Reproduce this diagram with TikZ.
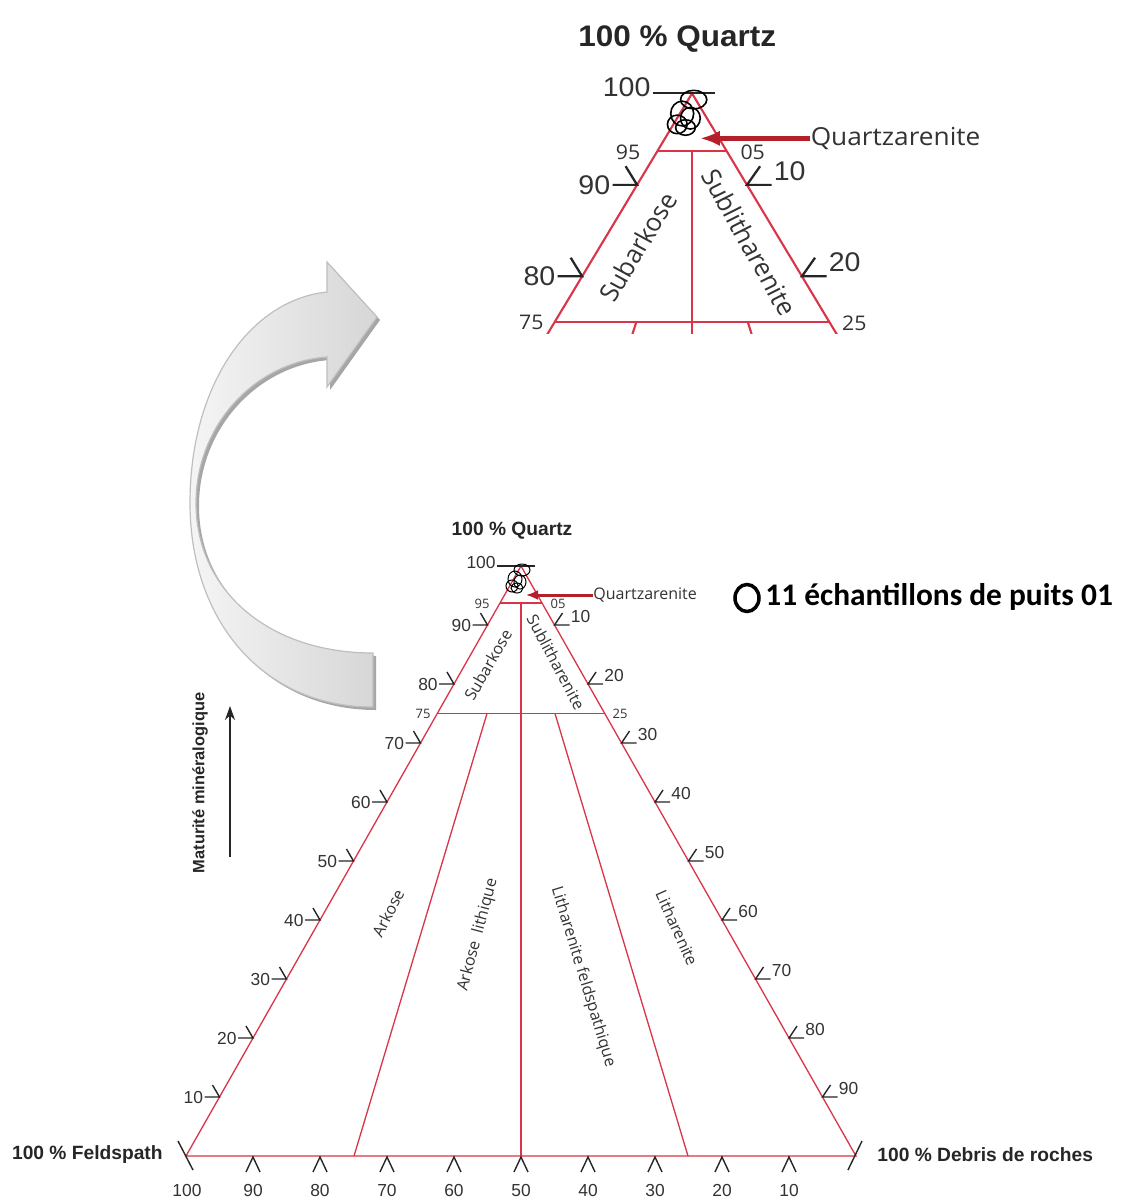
\documentclass[tikz,border=0pt]{standalone}
\usepackage{fontspec}
\setmainfont{Liberation Sans}
\newfontfamily\osans{Open Sans}
\newfontfamily\carl{Carlito}
\usetikzlibrary{arrows.meta}

\definecolor{trired}{RGB}{218,52,72}
\definecolor{arrred}{RGB}{180,32,42}

\tikzset{
  side/.style={trired, line width=0.65pt},
  tck/.style={black!85, line width=0.7pt},
  num/.style={font=\fontsize{8.7}{10}\selectfont, text=black!80, inner sep=0pt},
  petit/.style={font=\osans\fontsize{6.5}{8}\selectfont, text=black!80, inner sep=0pt},
  zone/.style={font=\osans\fontsize{8}{9}\selectfont, text=black!80, inner sep=0pt},
  ttl/.style={font=\bfseries\fontsize{9.6}{11}\selectfont, text=black!85, inner sep=0pt},
  echant/.style={draw=black, line width=0.5pt},
}

% graduations des cotes (unites : pixels)
\newcommand{\gradg}[1]{%
  \pgfmathsetmacro{\px}{186+3.35*#1}
  \pgfmathsetmacro{\py}{1156-5.9*#1}
  \draw[tck] (\px-15,\py) -- (\px,\py) -- (\px-7,\py-12);
  \node[num, anchor=east] (g#1) at (\px-16,\py) {#1};
}
\newcommand{\gradd}[1]{%
  \pgfmathsetmacro{\qx}{856-3.35*(100-#1)}
  \pgfmathsetmacro{\qy}{1156-5.9*(100-#1)}
  \draw[tck] (\qx+15,\qy) -- (\qx,\qy) -- (\qx+8,\qy-12);
  \node[num, anchor=west] (d#1) at (\qx+16,\qy-9) {#1};
}

% sommet du diagramme ternaire
\newcommand{\ternaire}{%
  \coordinate (F) at (186,1156);
  \coordinate (D) at (856,1156);
  \coordinate (Q) at (521,566);
  \draw[side] (F) -- (Q) -- (D) -- cycle;
  \draw[side] (500,603) -- (542,603);
  \draw[side] (437.3,713.5) -- (604.7,713.5);
  \draw[side] (521,603) -- (521,1156);
  \draw[side] (487,713.5) -- (354,1156);
  \draw[side] (555,713.5) -- (688,1156);
  \foreach \v in {80,90}{\gradg{\v}}
  \foreach \v in {10,20}{\gradd{\v}}
  \draw[tck] (497,566) -- (535,566);
  \node[num, anchor=east] (g100) at (496,562) {100};
  \node[petit] (l95) at (482,604) {95};
  \node[petit] (l05) at (558,604) {05};
  \node[petit] (l75) at (423,714) {75};
  \node[petit] (l25) at (620,714) {25};
  \node[zone, rotate=60] (subark) at (488,665) {Subarkose};
  \node[zone, rotate=-62] (sublith) at (556,662) {Sublitharenite};
  \node[ttl] (pq) at (512,531) {100 \% Quartz};
  % echantillons
  \foreach \cx/\cy/\rx/\ry in {522/570/8/6, 515/579/7/8, 520/582/6/7, 512/586/6/6, 517/588/6/5}
    \draw[echant] (\cx,\cy) ellipse [x radius=\rx, y radius=\ry];
  \node[font=\osans\fontsize{8}{10}\selectfont, text=black!80, anchor=west, inner sep=0pt] (qa) at (593,595) {Quartzarenite};
  \coordinate (qtip) at (526,595);
  \draw[arrred, line width=1.5pt, -{Latex[length=6pt,width=5pt]}] (qa.west) -- (qtip);
}

% reste du diagramme
\newcommand{\ternairebas}{%
  \foreach \v in {10,20,...,70}{\gradg{\v}}
  \foreach \v in {30,40,...,90}{\gradd{\v}}
  \foreach \v in {10,20,...,90}{
    \pgfmathsetmacro{\bx}{186+6.7*(100-\v)}
    \draw[tck] (\bx-7,1172) -- (\bx,1157) -- (\bx+7,1172);
    \node[num] (b\v) at (\bx,1190) {\v};
  }
  \node[num] (b100) at (187,1190) {100};
  \draw[tck] (178,1141) -- (193,1170);
  \draw[tck] (862,1141) -- (848,1170);
  \node[zone, rotate=63] (ark) at (388,913) {Arkose};
  \node[zone, rotate=75] (arklit) at (478,935) {Arkose\ \ lithique};
  \node[zone, rotate=-73] (litfeld) at (583,977) {Litharenite feldspathique};
  \node[zone, rotate=-66] (lit) at (677,928) {Litharenite};
  \node[ttl, anchor=east] (pf) at (163,1155) {100 \% Feldspath};
  \node[ttl, anchor=west] (pd) at (877,1155) {100 \% Debris de roches};
}

\begin{document}
\begin{tikzpicture}[x=0.5pt,y=-0.5pt]
  \fill[white] (0,0) rectangle (1121,1201);
  \useasboundingbox (0,0) rectangle (1121,1201);

  % fleche courbe
  \fill[black!35, shift={(3,3)}] (373,707) .. controls (262,707) and (190,620) .. (190,503)
    .. controls (190,385) and (250,300) .. (327,292) -- (327,262) -- (377,317) -- (327,387) -- (327,357)
    .. controls (255,362) and (196,425) .. (196,503) .. controls (196,590) and (268,653) .. (373,653) -- cycle;
  \draw[black!25, line width=0.6pt, left color=white!96!black, right color=black!16] (373,707) .. controls (262,707) and (190,620) .. (190,503)
    .. controls (190,385) and (250,300) .. (327,292) -- (327,262) -- (377,317) -- (327,387) -- (327,357)
    .. controls (255,362) and (196,425) .. (196,503) .. controls (196,590) and (268,653) .. (373,653) -- cycle;

  \ternaire
  \ternairebas

  % agrandissement du sommet
  \begin{scope}[transform canvas={shift={(-162.4,-783.9)},xscale=1.64,yscale=1.55}, name prefix=z-]
    \clip (395,506) rectangle (703,721);
    \ternaire
  \end{scope}

  % maturite
  \node[rotate=90, font=\bfseries\fontsize{8.2}{10}\selectfont, text=black!85, inner sep=0pt] (matu) at (200,783) {Maturité minéralogique};
  \coordinate (ma) at (230,857);
  \coordinate (mb) at (230,706);
  \draw[black!85, line width=0.8pt, -{Stealth[length=7pt,width=5pt]}] (ma) -- (mb);

  % legende
  \draw[line width=1.75pt] (747,598) ellipse [x radius=12, y radius=13.5];
  \node[font=\carl\bfseries\fontsize{15.7}{18}\selectfont, anchor=west, inner sep=0pt] (leg) at (765,597) {11 échantillons de puits 01};
\end{tikzpicture}
\end{document}
